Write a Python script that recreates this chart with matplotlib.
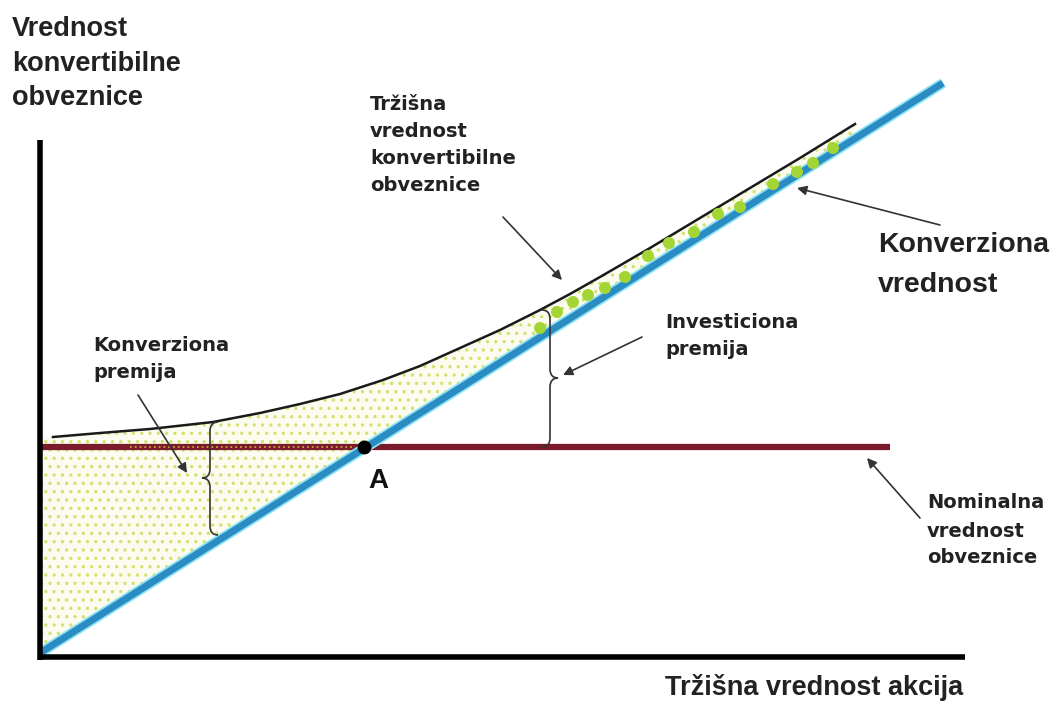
import numpy as np
import matplotlib
matplotlib.use("Agg")
import matplotlib.pyplot as plt
from matplotlib.path import Path
import matplotlib.patches as patches

# conversion value line (straight, from origin)
conv_x = [0.0, 90.3]
conv_y = [0.0, 57.0]

# nominal (face) value of the bond
nominal_y = 20.6
nominal_x = [-0.2, 85.0]

# market value of the convertible bond
market_x = [1.3, 6, 11, 17.3, 22, 26, 30, 34.3, 38, 42, 46, 50, 53, 56, 61, 66, 71, 76, 81.5]
market_y = [21.6, 22.0, 22.4, 23.1, 24.0, 24.9, 25.9, 27.3, 28.7, 30.5, 32.3, 34.3, 35.9,
            37.6, 40.5, 43.5, 46.5, 49.5, 52.9]

# green blobs between the two upper curves
blob_x = [50.0, 51.7, 53.3, 54.8, 56.5, 58.5, 60.8, 62.9, 65.4, 67.8, 70.0, 73.3, 75.7, 77.3, 79.3]
blob_y = [32.5, 34.1, 35.1, 35.8, 36.5, 37.6, 39.7, 41.0, 42.1, 43.9, 44.6, 46.9, 48.1, 49.0, 50.5]

# point A
point_a = (32.4, 20.6)

y_label = ["Vrednost", "konvertibilne", "obveznice"]
market_label = ["Tržišna", "vrednost", "konvertibilne", "obveznice"]
conv_label = ["Konverziona", "vrednost"]
inv_label = ["Investiciona", "premija"]
prem_label = ["Konverziona", "premija"]
nom_label = ["Nominalna", "vrednost", "obveznice"]
x_label = "Tržišna vrednost akcija"

plt.rcParams["hatch.linewidth"] = 1.2

fig = plt.figure(figsize=(10.58, 7.01), dpi=100)
ax = fig.add_axes([0, 0, 1, 1])
ax.set_xlim(-4, 101.8)
ax.set_ylim(-4.8, 65.3)
ax.axis("off")


def conv_at(x):
    return np.interp(x, conv_x, conv_y)


# speckled area between conversion line and market value
fx = np.r_[0.0, market_x]
fy = np.r_[market_y[0], market_y]
ax.fill_between(fx, conv_at(fx), fy, facecolor="#fbfcef", edgecolor="none", zorder=1)
ax.fill_between(fx, conv_at(fx), fy, facecolor="none", edgecolor="#d2e170",
                hatch="..", linewidth=0, zorder=1)

# axes
ax.plot([0, 0], [-0.7, 51.3], color="black", lw=4, solid_capstyle="butt", zorder=5)
ax.plot([-0.2, 92.5], [-0.4, -0.4], color="black", lw=4, solid_capstyle="butt", zorder=5)

# nominal value line
ax.plot(nominal_x, [nominal_y, nominal_y], color="#7b1a2b", lw=4.5, solid_capstyle="butt", zorder=3)
ax.plot([9, 31.5], [nominal_y, nominal_y], color="#c9a03c", lw=1.3, ls=":", zorder=3)

# conversion value line
ax.plot(conv_x, conv_y, color="#8ee3f5", lw=7.5, solid_capstyle="butt", zorder=3)
ax.plot(conv_x, conv_y, color="#2a8cc2", lw=5, solid_capstyle="butt", zorder=4)

# market value curve
ax.plot(market_x, market_y, color="#1a1a1a", lw=1.8, zorder=4)

# blobs
ax.scatter(blob_x, blob_y, s=75, color="#a3d635", edgecolors="none", zorder=4)

# point A
ax.plot(*point_a, "o", color="black", ms=9, zorder=6)


def brace(x, y0, y1, ym, d, w=0.8, r=0.9):
    verts = [
        (x - d * w, y1), (x, y1), (x, y1 - r),
        (x, ym + r),
        (x, ym), (x + d * w, ym),
        (x, ym), (x, ym - r),
        (x, y0 + r),
        (x, y0), (x - d * w, y0),
    ]
    codes = [Path.MOVETO, Path.CURVE3, Path.CURVE3, Path.LINETO,
             Path.CURVE3, Path.CURVE3, Path.CURVE3, Path.CURVE3,
             Path.LINETO, Path.CURVE3, Path.CURVE3]
    ax.add_patch(patches.PathPatch(Path(verts, codes), fill=False, ec="#333333", lw=1.2, zorder=5))


brace(17.0, 11.8, 23.1, 17.5, -1)
brace(51.0, 20.6, 34.3, 27.5, 1)

arrow = dict(arrowstyle="-|>", color="#333333", lw=1.2, mutation_scale=14, shrinkA=0, shrinkB=0)
ax.annotate("", xy=(14.7, 18.0), xytext=(9.8, 25.8), arrowprops=arrow, zorder=6)
ax.annotate("", xy=(52.2, 37.3), xytext=(46.3, 43.6), arrowprops=arrow, zorder=6)
ax.annotate("", xy=(52.3, 27.8), xytext=(60.2, 31.6), arrowprops=arrow, zorder=6)
ax.annotate("", xy=(75.7, 46.5), xytext=(90.0, 42.8), arrowprops=arrow, zorder=6)
ax.annotate("", xy=(82.7, 19.5), xytext=(88.0, 13.5), arrowprops=arrow, zorder=6)


def lines(x, ys, texts, **kw):
    for y, t in zip(ys, texts):
        ax.text(x, y, t, va="baseline", ha="left", color="#222222", **kw)


arial_b = dict(family="Liberation Sans", weight="bold")
small = dict(family="DejaVu Sans", weight="bold", fontsize=14)

lines(-2.8, [61.7, 58.2, 54.8], y_label, fontsize=19.5, **arial_b)
lines(33.0, [54.3, 51.6, 48.9, 46.2], market_label, **small)
lines(83.8, [40.1, 36.1], conv_label, fontsize=20.5, **arial_b)
lines(62.5, [32.5, 29.8], inv_label, **small)
lines(5.3, [30.2, 27.5], prem_label, **small)
lines(88.7, [14.5, 11.6, 9.0], nom_label, **small)
ax.text(32.8, 16.5, "A", va="baseline", ha="left", fontsize=20, color="#111111", **arial_b)
ax.text(62.5, -4.2, x_label, va="baseline", ha="left", fontsize=19.5, color="#222222", **arial_b)

fig.savefig("out.png", dpi=100, facecolor="white")
